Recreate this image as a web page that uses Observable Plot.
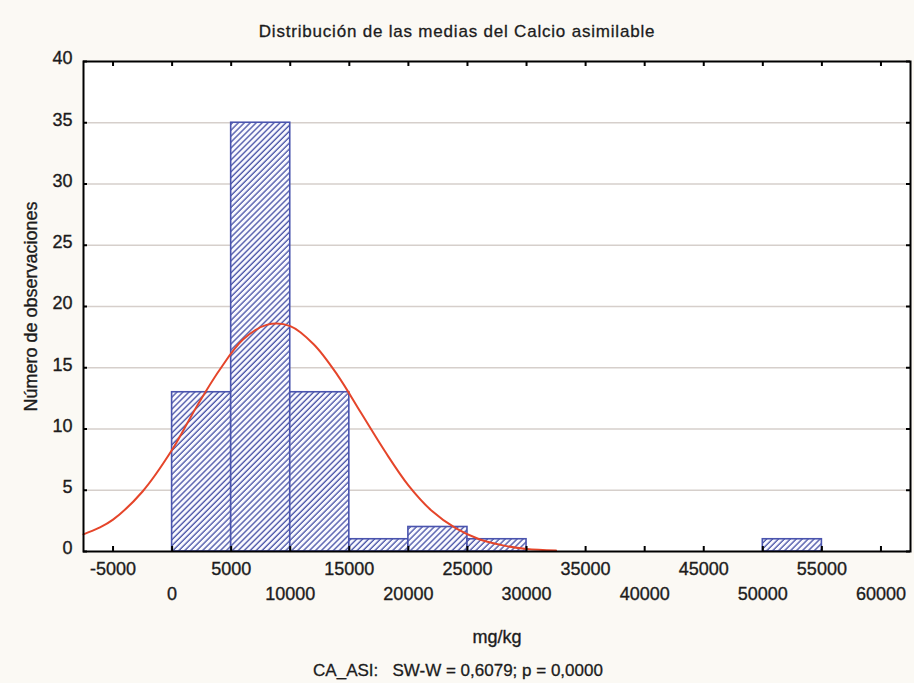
<!DOCTYPE html>
<html>
<head>
<meta charset="utf-8">
<script src="https://cdn.jsdelivr.net/npm/d3@7"></script>
<script src="https://cdn.jsdelivr.net/npm/@observablehq/plot@0.6"></script>
<style>
  html, body { margin: 0; padding: 0; background: #fbf9f4; }
  #wrap { width: 914px; height: 683px; font-family: "Liberation Sans", Arial, sans-serif; color: #1c1c1c; }
  #title { height: 45px; width: 914px; text-align: center; font-size: 17px; line-height: 22px; letter-spacing: 0.8px; box-sizing: border-box; padding-top: 21px; -webkit-text-stroke: 0.3px #1c1c1c; }
  #caption { height: 33px; width: 914px; box-sizing: border-box; padding-left: 2px; padding-top: 10px; text-align: center; font-size: 17px; line-height: 22px; white-space: pre; -webkit-text-stroke: 0.3px #1c1c1c; }
  svg { display: block; }
  svg text { stroke: #1c1c1c; stroke-width: 0.35px; }
</style>
</head>
<body>
<div id="wrap">
  <div id="title">Distribución de las medias del Calcio asimilable</div>
  <div id="chart"></div>
  <div id="caption">CA_ASI:   SW-W = 0,6079; p = 0,0000</div>
</div>
<script>
// Histogram bins (mg/kg) and counts
const binStart = [0, 5000, 10000, 15000, 20000, 25000, 50000];
const binEnd   = [5000, 10000, 15000, 20000, 25000, 30000, 55000];
const counts   = [13, 35, 13, 1, 2, 1, 1];

// Fitted normal curve
const curveX = [-7500, -6250, -5000, -2500, 0, 2000, 4000, 6000, 8000, 10000, 12000, 14000, 16000, 18000, 20000, 22000, 24000, 26000, 28000, 30000, 32500];
const curveY = [1.4, 1.9, 2.6, 4.9, 8.3, 11.7, 14.8, 17.3, 18.5, 18.4, 16.9, 14.4, 11.3, 8.2, 5.4, 3.3, 1.9, 1.0, 0.5, 0.2, 0.08];

// Axis ticks
const xTicksRowA = [-5000, 5000, 15000, 25000, 35000, 45000, 55000];
const xTicksRowB = [0, 10000, 20000, 30000, 40000, 50000, 60000];
const xTicksAll  = [-5000, 0, 5000, 10000, 15000, 20000, 25000, 30000, 35000, 40000, 45000, 50000, 55000, 60000];
const yTicks     = [0, 5, 10, 15, 20, 25, 30, 35, 40];
const yGrid      = [5, 10, 15, 20, 25, 30, 35];

const xLabel = "mg/kg";
const yLabel = "Número de observaciones";

const bins = binStart.map((s, i) => ({x1: s, x2: binEnd[i], count: counts[i]}));
const curve = curveX.map((x, i) => ({x, y: curveY[i]}));

const W = 914, H = 605;
const mL = 83, mR = 4, mT = 16, mB = 99;
const frameW = W - mL - mR, frameH = H - mT - mB;
const fmt = d => String(d);

const svg = Plot.plot({
  width: W, height: H,
  marginLeft: mL, marginRight: mR, marginTop: mT, marginBottom: mB,
  style: {background: "transparent", fontFamily: "'Liberation Sans', Arial, sans-serif", color: "#1c1c1c"},
  x: {domain: [-7500, 62500]},
  y: {domain: [0, 40]},
  marks: [
    Plot.frame({fill: "white", stroke: "none"}),
    Plot.ruleY(yGrid, {y: d => d, stroke: "#d6cfcb", strokeWidth: 1.5}),
    Plot.rectY(bins, {x1: "x1", x2: "x2", y: "count", fill: "url(#hatch)", stroke: "#4a54ae", strokeWidth: 1.6}),
    Plot.line(curve, {x: "x", y: "y", stroke: "#e5452a", strokeWidth: 2, curve: "catmull-rom"}),
    // inside ticks
    Plot.ruleX(xTicksAll, {x: d => d, insetTop: frameH - 5, stroke: "black", strokeWidth: 2}),
    Plot.ruleX(xTicksAll, {x: d => d, insetBottom: frameH - 5, stroke: "black", strokeWidth: 2}),
    Plot.ruleY(yTicks, {y: d => d, insetRight: frameW - 4, stroke: "black", strokeWidth: 2}),
    Plot.ruleY(yTicks, {y: d => d, insetLeft: frameW - 4, stroke: "black", strokeWidth: 2}),
    Plot.frame({stroke: "black", strokeWidth: 2}),
    Plot.axisX({ticks: xTicksRowA, anchor: "bottom", tickSize: 0, tickPadding: 11, tickFormat: fmt, label: null, fontSize: 18}),
    Plot.axisX({ticks: xTicksRowB, anchor: "bottom", tickSize: 0, tickPadding: 36, tickFormat: fmt, label: null, fontSize: 18}),
    Plot.axisY({ticks: yTicks, anchor: "left", tickSize: 0, tickPadding: 11, tickFormat: fmt, label: null, fontSize: 18, dy: -3}),
    Plot.text([xLabel], {frameAnchor: "bottom", dy: 86, lineAnchor: "middle", fontSize: 18, fill: "#1c1c1c"}),
    Plot.text([yLabel], {frameAnchor: "left", dx: -52, rotate: -90, textAnchor: "middle", lineAnchor: "middle", fontSize: 18, fill: "#1c1c1c"})
  ]
});

const defs = d3.select(svg).insert("defs", ":first-child");
const pat = defs.append("pattern")
  .attr("id", "hatch")
  .attr("patternUnits", "userSpaceOnUse")
  .attr("width", 4.2).attr("height", 4.2)
  .attr("patternTransform", "rotate(45)");
pat.append("rect").attr("width", 4.2).attr("height", 4.2).attr("fill", "#fafaff");
pat.append("line").attr("x1", 1).attr("y1", 0).attr("x2", 1).attr("y2", 4.2)
  .attr("stroke", "#4f59aa").attr("stroke-width", 1.4);

document.getElementById("chart").appendChild(svg);
</script>
</body>
</html>
